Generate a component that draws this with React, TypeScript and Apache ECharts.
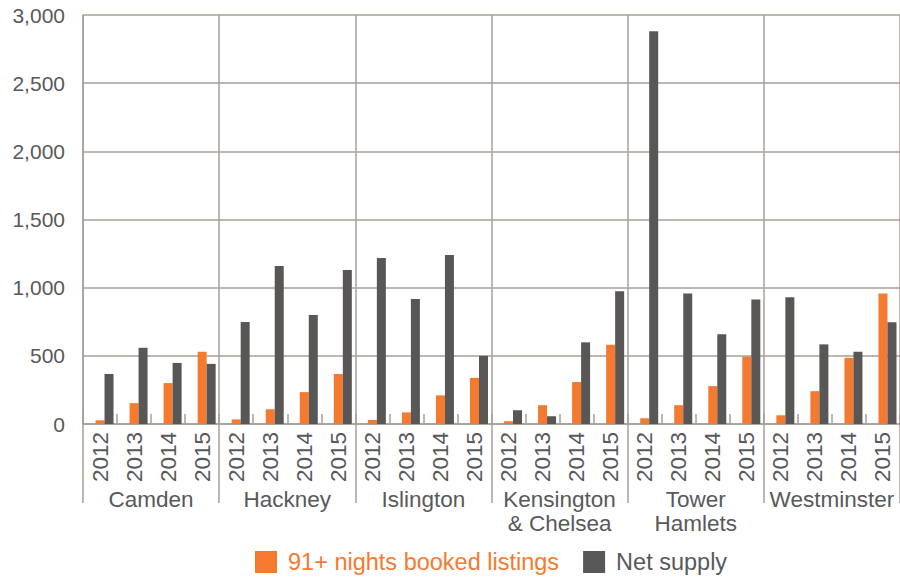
import React, { useEffect, useRef } from "react";
import * as echarts from "echarts";

const boroughs = ["Camden", "Hackney", "Islington", "Kensington\n& Chelsea", "Tower\nHamlets", "Westminster"];
const years = ["2012", "2013", "2014", "2015"];
const categories: string[] = boroughs.flatMap(() => years);

const bookedListings = [27, 153, 300, 530, 34, 108, 234, 367, 30, 85, 210, 338, 20, 138, 308, 581, 42, 138, 278, 495, 64, 241, 485, 958];
const netSupply = [367, 559, 448, 441, 749, 1159, 800, 1129, 1217, 917, 1239, 500, 101, 57, 599, 973, 2880, 958, 658, 914, 929, 584, 530, 746];
const spacer = categories.map(() => 0);

const ORANGE = "#F47A30";
const DARK = "#595756";
const GRID = "#A69F99";
const TEXT = "#58595B";
const FONT = "Liberation Sans, Arial, sans-serif";

export default function App() {
  const ref = useRef<HTMLDivElement>(null);
  useEffect(() => {
    if (!ref.current) return;
    const chart = echarts.init(ref.current, undefined, { renderer: "svg" });
    chart.setOption({
      animation: false,
      textStyle: { fontFamily: FONT },
      grid: { left: 83, top: 15, right: -4, bottom: 153, containLabel: false },
      legend: {
        left: 255,
        top: 549,
        padding: 0,
        itemWidth: 22,
        itemHeight: 22,
        itemGap: 24,
        icon: "rect",
        data: [
          { name: "91+ nights booked listings", textStyle: { color: ORANGE } },
          { name: "Net supply", textStyle: { color: TEXT } },
        ],
        textStyle: { fontSize: 23.5, fontFamily: FONT, padding: [0, 0, 0, 6], lineHeight: 26 },
      },
      xAxis: [
        {
          type: "category",
          data: categories,
          position: "bottom",
          axisLine: { show: true, lineStyle: { color: GRID, width: 1.5 } },
          axisTick: { show: true, inside: true, length: 10, interval: 0, lineStyle: { color: GRID, width: 1.5 } },
          axisLabel: { interval: 0, rotate: 90, fontSize: 22.5, color: TEXT, margin: 8, fontFamily: FONT },
          splitLine: { show: false },
        },
        {
          type: "category",
          data: boroughs,
          position: "bottom",
          axisLine: { show: false },
          axisTick: { show: true, inside: false, length: 79, interval: 0, lineStyle: { color: GRID, width: 1.5 } },
          axisLabel: { interval: 0, fontSize: 22.5, color: TEXT, margin: 63, lineHeight: 24, fontFamily: FONT },
          splitLine: { show: true, interval: 0, lineStyle: { color: GRID, width: 1.5 } },
        },
      ],
      yAxis: {
        type: "value",
        min: 0,
        max: 3000,
        interval: 500,
        axisLine: { show: true, lineStyle: { color: GRID, width: 1.5 } },
        axisTick: { show: false },
        axisLabel: {
          fontSize: 21,
          color: TEXT,
          margin: 18,
          fontFamily: FONT,
          formatter: (v: number) => v.toLocaleString("en-US"),
        },
        splitLine: { show: true, lineStyle: { color: GRID, width: 1.5 } },
      },
      series: [
        {
          name: "spacer",
          type: "bar",
          xAxisIndex: 0,
          data: spacer,
          barWidth: 9,
          barGap: "0%",
          itemStyle: { color: "rgba(0,0,0,0)" },
          silent: true,
        },
        {
          name: "91+ nights booked listings",
          type: "bar",
          xAxisIndex: 0,
          data: bookedListings,
          barWidth: 9,
          barGap: "0%",
          itemStyle: { color: ORANGE },
        },
        {
          name: "Net supply",
          type: "bar",
          xAxisIndex: 0,
          data: netSupply,
          barWidth: 9,
          barGap: "0%",
          itemStyle: { color: DARK },
        },
      ],
    });
    return () => chart.dispose();
  }, []);
  return (
    <div
      ref={ref}
      style={{ position: "fixed", left: 0, top: 0, width: 900, height: 577, background: "#fff" }}
    />
  );
}
